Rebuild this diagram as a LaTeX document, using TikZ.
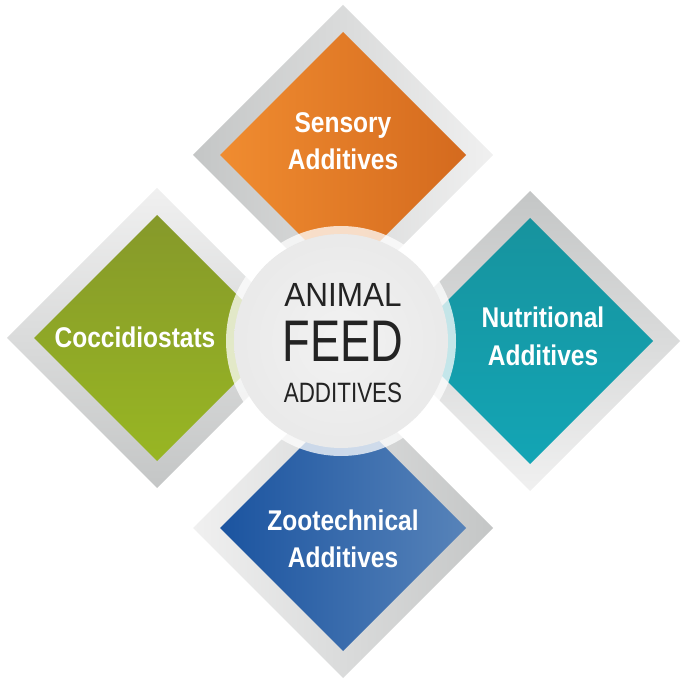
\documentclass[tikz,border=0pt]{standalone}
\usepackage{fontspec}
\setmainfont{Liberation Sans}
\newfontfamily\boxfont[FakeStretch=0.86]{Liberation Sans}
\newfontfamily\animalfont[FakeStretch=0.94]{Liberation Sans}
\newfontfamily\feedfont[FakeStretch=0.77]{Liberation Sans}
\newfontfamily\additivesfont[FakeStretch=0.8]{Liberation Sans}

\definecolor{framedark}{HTML}{C4C6C6}
\definecolor{framelight}{HTML}{F0F0F0}
\definecolor{orangeL}{HTML}{F08C30}
\definecolor{orangeR}{HTML}{D46A1E}
\definecolor{greenT}{HTML}{86992A}
\definecolor{greenB}{HTML}{98B623}
\definecolor{tealT}{HTML}{17939E}
\definecolor{tealB}{HTML}{13A5B5}
\definecolor{blueL}{HTML}{1B54A0}
\definecolor{blueR}{HTML}{5783B9}
\definecolor{discin}{HTML}{F2F2F2}
\definecolor{discout}{HTML}{D0D0D0}
\definecolor{titlegray}{HTML}{232323}
\pgfdeclareradialshading{discshade}{\pgfpoint{0bp}{0bp}}{color(0bp)=(discin); color(30bp)=(discin!70!discout); color(50bp)=(discout)}

\begin{document}
\begin{tikzpicture}[x=1pt, y=-1pt,
  boxtext/.style={text=white, align=center, anchor=base, inner sep=0pt, font=\boxfont\bfseries\fontsize{28.5}{37}\selectfont},
  titletext/.style={text=titlegray, anchor=base, inner sep=0pt}]
\useasboundingbox (0,0) rectangle (685,684);

\shade[left color=framedark, right color=framelight] (343,155) +(-150,0) -- +(0,-150) -- +(150,0) -- +(0,150) -- cycle;
\shade[top color=framelight, bottom color=framedark] (157,338) +(-150,0) -- +(0,-150) -- +(150,0) -- +(0,150) -- cycle;
\shade[top color=framedark, bottom color=framelight] (530,341) +(-150,0) -- +(0,-150) -- +(150,0) -- +(0,150) -- cycle;
\shade[left color=framelight, right color=framedark] (343,528) +(-150,0) -- +(0,-150) -- +(150,0) -- +(0,150) -- cycle;

\shade[left color=orangeL, right color=orangeR] (343,155) +(-123,0) -- +(0,-123) -- +(123,0) -- +(0,123) -- cycle;
\shade[top color=greenT, bottom color=greenB] (157,338) +(-123,0) -- +(0,-123) -- +(123,0) -- +(0,123) -- cycle;
\shade[top color=tealT, bottom color=tealB] (530,341) +(-123,0) -- +(0,-123) -- +(123,0) -- +(0,123) -- cycle;
\shade[left color=blueL, right color=blueR] (343,528) +(-123,0) -- +(0,-123) -- +(123,0) -- +(0,123) -- cycle;

\fill[white, opacity=0.75] (341,341) circle[radius=115];
\shade[shading=discshade] (341,341) circle[radius=107];

\node[boxtext] (sensory) at (343,170) {Sensory\\Additives};
\node[boxtext] (cocci) at (135,348) {Coccidiostats};
\node[boxtext] (nutri) at (543,365) {Nutritional\\Additives};
\node[boxtext] (zoo) at (343,567) {Zootechnical\\Additives};

\node[titletext, font=\animalfont\fontsize{33.5}{33.5}\selectfont] (animal) at (343,307) {ANIMAL};
\node[titletext, font=\feedfont\fontsize{58.7}{58.7}\selectfont] (feed) at (343,362) {FEED};
\node[titletext, font=\additivesfont\fontsize{28}{28}\selectfont] (additives) at (343,402) {ADDITIVES};
\end{tikzpicture}
\end{document}
